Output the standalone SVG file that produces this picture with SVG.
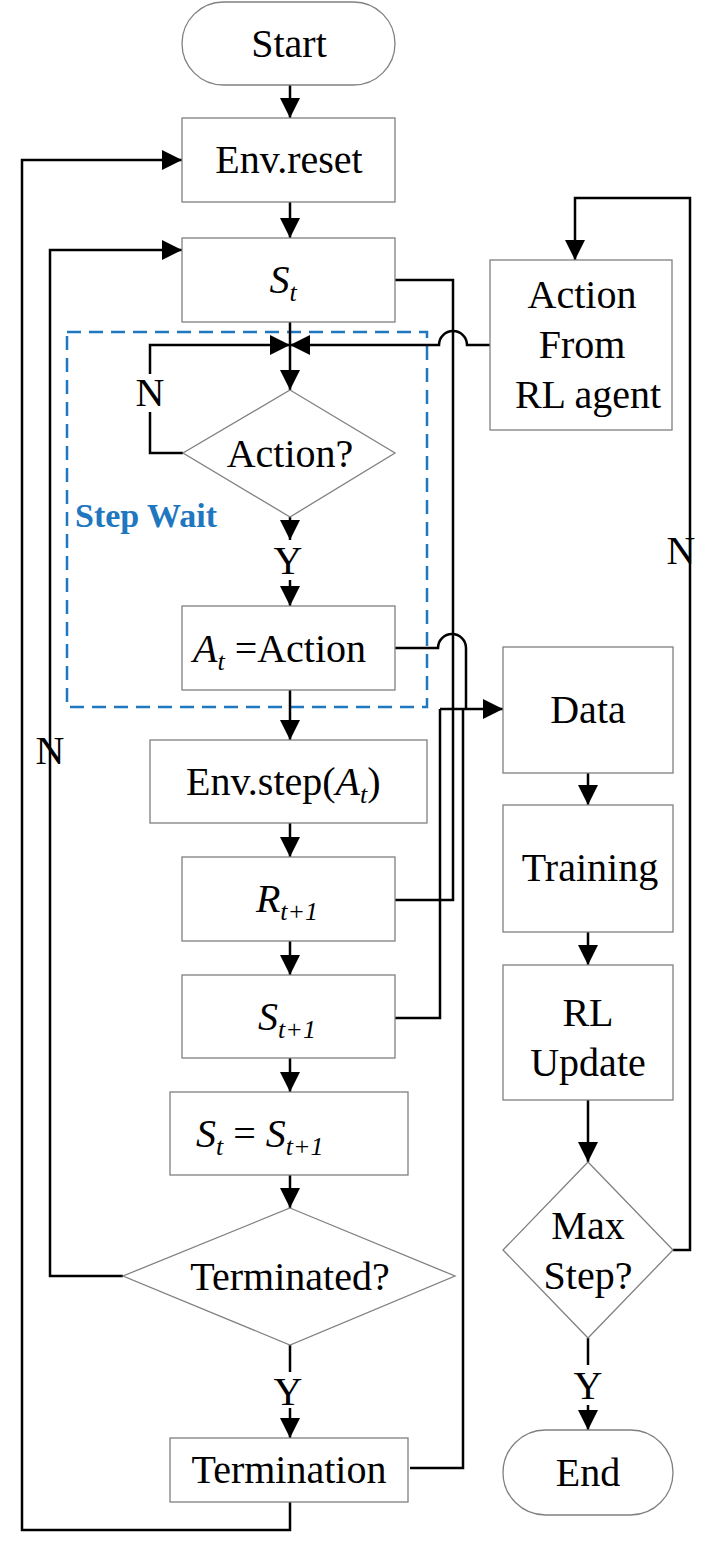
<svg xmlns="http://www.w3.org/2000/svg" width="713" height="1553" viewBox="0 0 713 1553">
<style>
.b{fill:#fff;stroke:#808080;stroke-width:1.3}
.t{font-family:"Liberation Serif",serif;font-size:40px;text-anchor:middle;fill:#000}
.i{font-style:italic}
.c{fill:none;stroke:#000;stroke-width:2.5}
</style>
<defs>
<marker id="A" viewBox="0 0 10 10" refX="10" refY="5" markerWidth="20" markerHeight="20" markerUnits="userSpaceOnUse" orient="auto"><path d="M0,0L10,5L0,10z" fill="#000"/></marker></defs>
<rect x="67" y="332" width="360" height="375" fill="none" stroke="#1f77c0" stroke-width="2.5" stroke-dasharray="14,8"/>
<text x="75" y="527" font-family="Liberation Serif,serif" font-size="34" font-weight="bold" fill="#1f77c0">Step Wait</text>
<g id="connectors">
<path class="c" marker-end="url(#A)" d="M290,85V118"/>
<path class="c" marker-end="url(#A)" d="M290,202V238"/>
<path class="c" marker-end="url(#A)" d="M290,322V390"/>
<path class="c" d="M183,453H150V412"/>
<path class="c" marker-end="url(#A)" d="M150,374V345H290"/>
<path class="c" marker-end="url(#A)" d="M490,345H467A14,14 0 0 0 439,345H290"/>
<path class="c" marker-end="url(#A)" d="M290,517V540"/>
<path class="c" marker-end="url(#A)" d="M290,580V606"/>
<path class="c" marker-end="url(#A)" d="M290,690V740"/>
<path class="c" marker-end="url(#A)" d="M290,823V857"/>
<path class="c" marker-end="url(#A)" d="M290,941V975"/>
<path class="c" marker-end="url(#A)" d="M290,1058V1092"/>
<path class="c" marker-end="url(#A)" d="M290,1175V1208"/>
<path class="c" d="M290,1345V1372"/>
<path class="c" marker-end="url(#A)" d="M290,1408V1438"/>
<path class="c" marker-end="url(#A)" d="M290,1502V1530H22V160H182"/>
<path class="c" marker-end="url(#A)" d="M123,1276H50V250H182"/>
<path class="c" d="M395,280H453V900H395"/>
<path class="c" d="M395,648H438A14,14 0 0 1 466,648V709"/>
<path class="c" d="M395,1018H440V709"/>
<path class="c" d="M410,1468H463V709"/>
<path class="c" marker-end="url(#A)" d="M440,709H503"/>
<path class="c" marker-end="url(#A)" d="M588,773V805"/>
<path class="c" marker-end="url(#A)" d="M588,932V965"/>
<path class="c" marker-end="url(#A)" d="M588,1100V1162"/>
<path class="c" d="M588,1338V1365"/>
<path class="c" marker-end="url(#A)" d="M588,1405V1430"/>
<path class="c" marker-end="url(#A)" d="M673,1250H690V198H575V260"/>
</g>
<g id="start"><rect class="b" x="182" y="2" width="213" height="83" rx="41.5"/><text class="t" x="289" y="57">Start</text></g>
<g id="envreset"><rect class="b" x="182" y="118" width="213" height="84"/><text class="t" x="289" y="173">Env.reset</text></g>
<g id="st"><rect class="b" x="182" y="238" width="213" height="84"/><text class="t i" x="283" y="293">S<tspan font-size="26" dy="8">t</tspan></text></g>
<g id="action"><path class="b" d="M290,390L395,453L290,517L183,453Z"/><text class="t" x="290" y="467">Action?</text></g>
<text class="t" x="150" y="406">N</text>
<text class="t" x="288" y="574">Y</text>
<g id="at"><rect class="b" x="182" y="606" width="213" height="84"/><text x="193" y="662" font-family="Liberation Serif,serif" font-size="40"><tspan font-style="italic">A</tspan><tspan font-style="italic" font-size="26" dy="8">t</tspan><tspan dy="-8"> =Action</tspan></text></g>
<g id="envstep"><rect class="b" x="150" y="740" width="277" height="83"/><text x="186" y="795" font-family="Liberation Serif,serif" font-size="40">Env.step(<tspan font-style="italic">A</tspan><tspan font-style="italic" font-size="26" dy="8">t</tspan><tspan dy="-8">)</tspan></text></g>
<g id="rt1"><rect class="b" x="182" y="857" width="213" height="84"/><text class="t i" x="287" y="912">R<tspan font-size="26" dy="8">t+1</tspan></text></g>
<g id="st1"><rect class="b" x="182" y="975" width="213" height="83"/><text class="t i" x="287" y="1030">S<tspan font-size="26" dy="8">t+1</tspan></text></g>
<g id="assign"><rect class="b" x="170" y="1092" width="238" height="83"/><text x="196" y="1147" font-family="Liberation Serif,serif" font-size="40" font-style="italic">S<tspan font-size="26" dy="8">t</tspan><tspan dy="-8" font-style="normal"> = </tspan>S<tspan font-size="26" dy="8">t+1</tspan></text></g>
<g id="terminated"><path class="b" d="M290,1208L455,1276L290,1345L123,1276Z"/><text class="t" x="290" y="1290">Terminated?</text></g>
<text class="t" x="288" y="1405">Y</text>
<g id="termination"><rect class="b" x="170" y="1438" width="238" height="64"/><text class="t" x="289" y="1483">Termination</text></g>
<text class="t" x="50" y="764">N</text>
<g id="agent"><rect class="b" x="490" y="260" width="182" height="170"/><text class="t" x="582" y="308">Action</text><text class="t" x="582" y="358">From</text><text class="t" x="588" y="408">RL agent</text></g>
<text class="t" x="681" y="564">N</text>
<g id="data"><rect class="b" x="503" y="647" width="170" height="126"/><text class="t" x="588" y="723">Data</text></g>
<g id="training"><rect class="b" x="503" y="805" width="170" height="127"/><text class="t" x="590" y="881">Training</text></g>
<g id="rlupdate"><rect class="b" x="503" y="965" width="170" height="135"/><text class="t" x="588" y="1026">RL</text><text class="t" x="588" y="1076">Update</text></g>
<g id="maxstep"><path class="b" d="M588,1162L673,1250L588,1338L503,1250Z"/><text class="t" x="588" y="1239">Max</text><text class="t" x="588" y="1289">Step?</text></g>
<text class="t" x="588" y="1399">Y</text>
<g id="end"><rect class="b" x="503" y="1430" width="170" height="85" rx="42.5"/><text class="t" x="588" y="1486">End</text></g>
</svg>
